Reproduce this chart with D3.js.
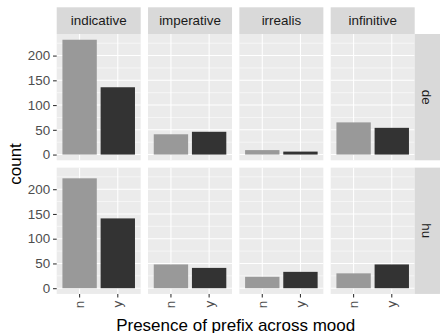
<!DOCTYPE html>
<html>
<head>
<meta charset="utf-8">
<script src="https://cdn.jsdelivr.net/npm/d3@7"></script>
<style>
  html, body { margin: 0; padding: 0; background: #ffffff; }
  svg { display: block; font-family: "Liberation Sans", Arial, sans-serif; }
</style>
</head>
<body>
<svg id="chart" width="440" height="333"></svg>
<script>
// Facet layout: columns are moods, rows are languages, bars are prefix presence.
const moods = ["indicative", "imperative", "irrealis", "infinitive"];
const languages = ["de", "hu"];
const prefixLevels = ["n", "y"];

// Counts per mood (same order as moods)
const deNo  = [232, 41, 9, 65];
const deYes = [136, 46, 6, 54];
const huNo  = [222, 48, 23, 30];
const huYes = [141, 41, 33, 48];

const yTicks = [0, 50, 100, 150, 200];
const yMinor = [25, 75, 125, 175, 225];

const fills = { n: "#999999", y: "#333333" };

const countsByLang = {
  de: { n: deNo, y: deYes },
  hu: { n: huNo, y: huYes }
};

const svg = d3.select("#chart");

// Panel geometry
const panelLeft = 56.7, panelTop = 34, panelW = 84, panelH = 126.3, gap = 7.33;
const stripH = 26.7, stripW = 25.3;
const smallFont = 13.4, titleFont = 17;

const maxCount = d3.max([...deNo, ...deYes, ...huNo, ...huYes]);
const pad = maxCount * 0.05;

const x = d3.scaleBand().domain(prefixLevels).range([0, panelW])
  .paddingInner(0.1).paddingOuter(0.15);
const y = d3.scaleLinear().domain([-pad, maxCount + pad]).range([panelH, 0]);

languages.forEach((lang, r) => {
  const py = panelTop + r * (panelH + gap);
  moods.forEach((mood, c) => {
    const px = panelLeft + c * (panelW + gap);
    const g = svg.append("g").attr("transform", `translate(${px},${py})`);

    g.append("rect").attr("width", panelW).attr("height", panelH).attr("fill", "#EBEBEB");

    // minor horizontal grid
    g.selectAll(".minor").data(yMinor).enter().append("line")
      .attr("x1", 0).attr("x2", panelW)
      .attr("y1", d => y(d)).attr("y2", d => y(d))
      .attr("stroke", "#ffffff").attr("stroke-width", 0.55);
    // major horizontal grid
    g.selectAll(".major").data(yTicks).enter().append("line")
      .attr("x1", 0).attr("x2", panelW)
      .attr("y1", d => y(d)).attr("y2", d => y(d))
      .attr("stroke", "#ffffff").attr("stroke-width", 1.07);
    // vertical grid at category centres
    g.selectAll(".vgrid").data(prefixLevels).enter().append("line")
      .attr("x1", d => x(d) + x.bandwidth() / 2).attr("x2", d => x(d) + x.bandwidth() / 2)
      .attr("y1", 0).attr("y2", panelH)
      .attr("stroke", "#ffffff").attr("stroke-width", 1.07);

    // bars
    const rows = prefixLevels.map(p => ({ p, v: countsByLang[lang][p][c] }));
    g.selectAll(".bar").data(rows).enter().append("rect")
      .attr("x", d => x(d.p)).attr("width", x.bandwidth())
      .attr("y", d => y(d.v)).attr("height", d => y(0) - y(d.v))
      .attr("fill", d => fills[d.p]);

    // top strip (first row only)
    if (r === 0) {
      const s = svg.append("g").attr("transform", `translate(${px},${panelTop - stripH})`);
      s.append("rect").attr("width", panelW).attr("height", stripH).attr("fill", "#D9D9D9");
      s.append("text").attr("x", panelW / 2).attr("y", stripH / 2)
        .attr("text-anchor", "middle").attr("dominant-baseline", "central")
        .attr("font-size", smallFont).attr("fill", "#1A1A1A").text(mood);
    }

    // left y axis
    if (c === 0) {
      const ax = svg.append("g").attr("transform", `translate(${px},${py})`)
        .call(d3.axisLeft(y).tickValues(yTicks).tickSize(3.67).tickPadding(2.9));
      ax.select(".domain").remove();
      ax.selectAll(".tick line").attr("stroke", "#333333").attr("stroke-width", 1.07);
      ax.selectAll(".tick text").attr("fill", "#4D4D4D").attr("font-size", smallFont)
        .attr("font-family", "Liberation Sans, Arial, sans-serif");
    }

    // bottom x axis (last row only)
    if (r === languages.length - 1) {
      const ax = svg.append("g").attr("transform", `translate(${px},${py + panelH})`);
      prefixLevels.forEach(p => {
        const cx = x(p) + x.bandwidth() / 2;
        ax.append("line").attr("x1", cx).attr("x2", cx).attr("y1", 0).attr("y2", 3.67)
          .attr("stroke", "#333333").attr("stroke-width", 1.07);
        ax.append("text")
          .attr("transform", `translate(${cx},${6.8}) rotate(-90)`)
          .attr("text-anchor", "end").attr("dominant-baseline", "central")
          .attr("font-size", smallFont).attr("fill", "#4D4D4D").text(p);
      });
    }
  });

  // right strip
  const sx = panelLeft + moods.length * (panelW + gap) - gap;
  const rs = svg.append("g").attr("transform", `translate(${sx},${py})`);
  rs.append("rect").attr("width", stripW).attr("height", panelH).attr("fill", "#D9D9D9");
  rs.append("text")
    .attr("transform", `translate(${11.5},${panelH / 2}) rotate(90)`)
    .attr("text-anchor", "middle").attr("dominant-baseline", "central")
    .attr("font-size", smallFont).attr("fill", "#1A1A1A").text(lang);
});

// axis titles
const plotRight = panelLeft + moods.length * (panelW + gap) - gap;
svg.append("text")
  .attr("x", (panelLeft + plotRight) / 2).attr("y", 330.5)
  .attr("text-anchor", "middle").attr("font-size", titleFont).attr("fill", "#000000")
  .text("Presence of prefix across mood");

svg.append("text")
  .attr("transform", `translate(20.7,${panelTop + panelH + gap / 2}) rotate(-90)`)
  .attr("text-anchor", "middle").attr("font-size", titleFont).attr("fill", "#000000")
  .text("count");
</script>
</body>
</html>
